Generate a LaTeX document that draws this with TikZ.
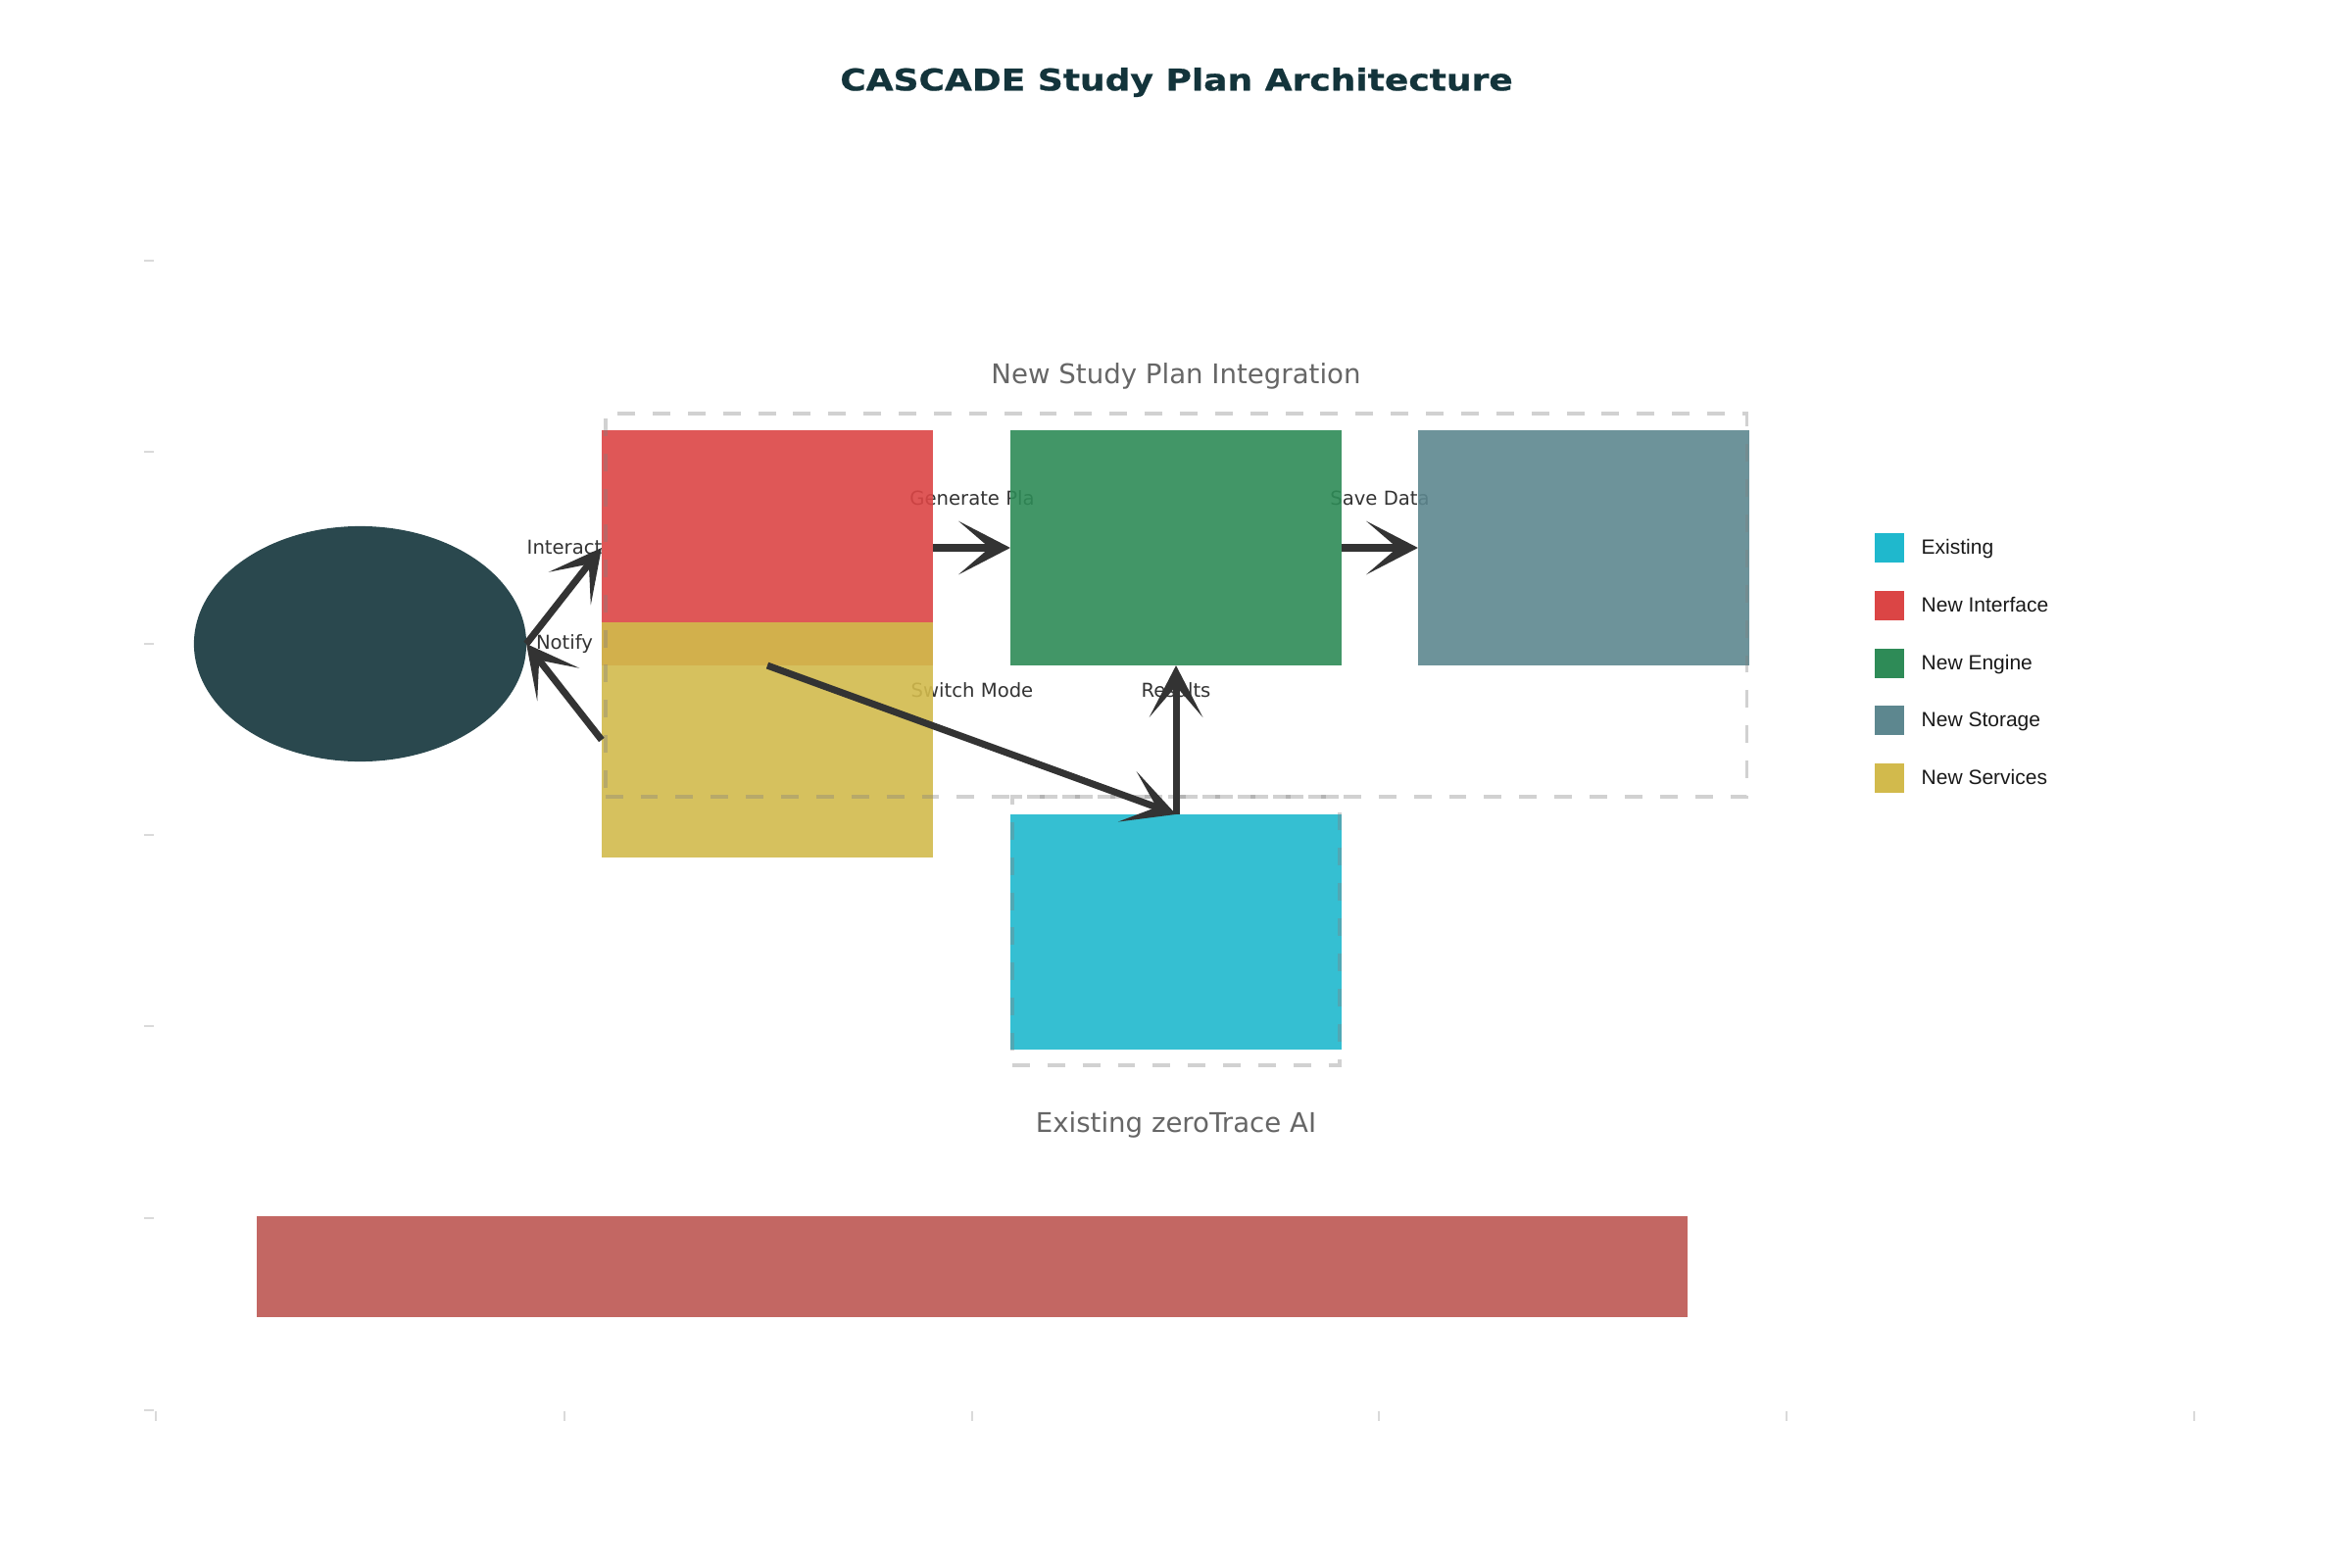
\documentclass[tikz,border=0pt]{standalone}
\usepackage{fontspec}
\setmainfont{DejaVu Sans}
\newfontfamily\titlefont{DejaVu Sans}[FakeStretch=1.18, FakeBold=0.8]
\newfontfamily\legendfont{Liberation Sans}
\usetikzlibrary{arrows.meta,shapes.geometric}

\definecolor{cTitle}{HTML}{13343B}
\definecolor{cInterface}{HTML}{DB4545}
\definecolor{cEngine}{HTML}{2E8B57}
\definecolor{cStorage}{HTML}{5D878F}
\definecolor{cServices}{HTML}{D2BA4C}
\definecolor{cExisting}{HTML}{1FB8CD}
\definecolor{cUser}{HTML}{13343B}
\definecolor{cBar}{HTML}{B4413C}
\definecolor{cInk}{HTML}{333333}
\definecolor{cGroupText}{HTML}{666666}
\definecolor{cTick}{HTML}{DADADA}

\begin{document}
\begin{tikzpicture}[x=0.01cm, y=-0.01cm,
  block/.style={rectangle, inner sep=0pt, outer sep=0pt,
    minimum width=3.38cm, minimum height=2.40cm, fill opacity=0.9},
  actor/.style={ellipse, inner sep=0pt, outer sep=0pt,
    minimum width=3.39cm, minimum height=2.40cm, fill=cUser, fill opacity=0.9},
  groupbox/.style={rectangle, inner sep=0pt, outer sep=0pt,
    draw=black!50, draw opacity=0.36, line width=1.05pt,
    dash pattern=on 5.1pt off 5.1pt},
  grouplabel/.style={inner sep=0pt, anchor=base, text=cGroupText,
    font=\fontsize{7.85}{9}\selectfont},
  edgelabel/.style={inner sep=0pt, anchor=base, text=cInk,
    font=\fontsize{5.58}{7}\selectfont},
  flow/.style={draw=cInk, line width=2pt,
    -{Stealth[length=15pt, width=15.5pt, inset=9pt]}},
  swatch/.style={rectangle, inner sep=0pt, outer sep=0pt,
    minimum width=0.30cm, minimum height=0.30cm},
  legendtext/.style={inner sep=0pt, anchor=base west, text=black!90,
    font=\legendfont\fontsize{5.97}{7}\selectfont},
  tick/.style={draw=cTick, line width=0.6pt}
]
\useasboundingbox (0,0) rectangle (2400,1600);

% axis ticks
\foreach \ty in {266,461,657,852,1047,1243,1439}
  \draw[tick] (147,\ty) -- (157,\ty);
\foreach \tx in {159,576,992,1407,1823,2239}
  \draw[tick] (\tx,1440) -- (\tx,1450);

% title
\node[inner sep=0pt, anchor=base, text=cTitle,
      font=\titlefont\bfseries\fontsize{8.68}{10}\selectfont]
  (title) at (1200.5,92.3) {CASCADE Study Plan Architecture};

% connector labels (set beneath the blocks)
\node[edgelabel] (lInteract) at (576,565) {Interact};
\node[edgelabel] (lNotify)   at (576,662) {Notify};
\node[edgelabel] (lGenerate) at (992,515) {Generate Pla};
\node[edgelabel] (lSave)     at (1408,515) {Save Data};
\node[edgelabel] (lSwitch)   at (992,711) {Switch Mode};
\node[edgelabel] (lResults)  at (1200,711) {Results};

% group captions
\node[grouplabel] (gNewLabel) at (1200,391) {New Study Plan Integration};
\node[grouplabel] (gOldLabel) at (1200,1155) {Existing zeroTrace AI};

% components
\node[actor] (user) at (367.5,657) {};
\node[block, fill=cInterface] (ui) at (783,559) {};
\node[block, fill=cServices] (services) at (783,755) {};
\node[block, fill=cEngine] (engine) at (1200,559) {};
\node[block, fill=cStorage] (storage) at (1616,559) {};
\node[block, fill=cExisting] (zerotrace) at (1200,951) {};
\node[rectangle, inner sep=0pt, outer sep=0pt, fill=cBar, fill opacity=0.8,
      minimum width=14.60cm, minimum height=1.03cm] (bar) at (992,1292.5) {};

% group frames
\node[groupbox, minimum width=11.64cm, minimum height=3.91cm] (gNew) at (1200,617.5) {};
\node[groupbox, minimum width=3.34cm, minimum height=2.74cm] (gOld) at (1200,950) {};

% connectors
\draw[flow] (user.east) -- (ui.west);
\draw[flow] (services.west) -- (user.east);
\draw[flow] (ui.east) -- (engine.west);
\draw[flow] (engine.east) -- (storage.west);
\draw[flow] (zerotrace.north) -- (engine.south);
\draw[flow] (ui.south) -- (zerotrace.north);

% legend
\node[swatch, fill=cExisting]  (kExisting)  at (1927.5,559) {};
\node[swatch, fill=cInterface] (kInterface) at (1927.5,618) {};
\node[swatch, fill=cEngine]    (kEngine)    at (1927.5,677) {};
\node[swatch, fill=cStorage]   (kStorage)   at (1927.5,735) {};
\node[swatch, fill=cServices]  (kServices)  at (1927.5,794) {};
\node[legendtext] (tExisting)  at (1960,565) {Existing};
\node[legendtext] (tInterface) at (1960,624) {New Interface};
\node[legendtext] (tEngine)    at (1960,683) {New Engine};
\node[legendtext] (tStorage)   at (1960,741) {New Storage};
\node[legendtext] (tServices)  at (1960,800) {New Services};
\end{tikzpicture}
\end{document}
